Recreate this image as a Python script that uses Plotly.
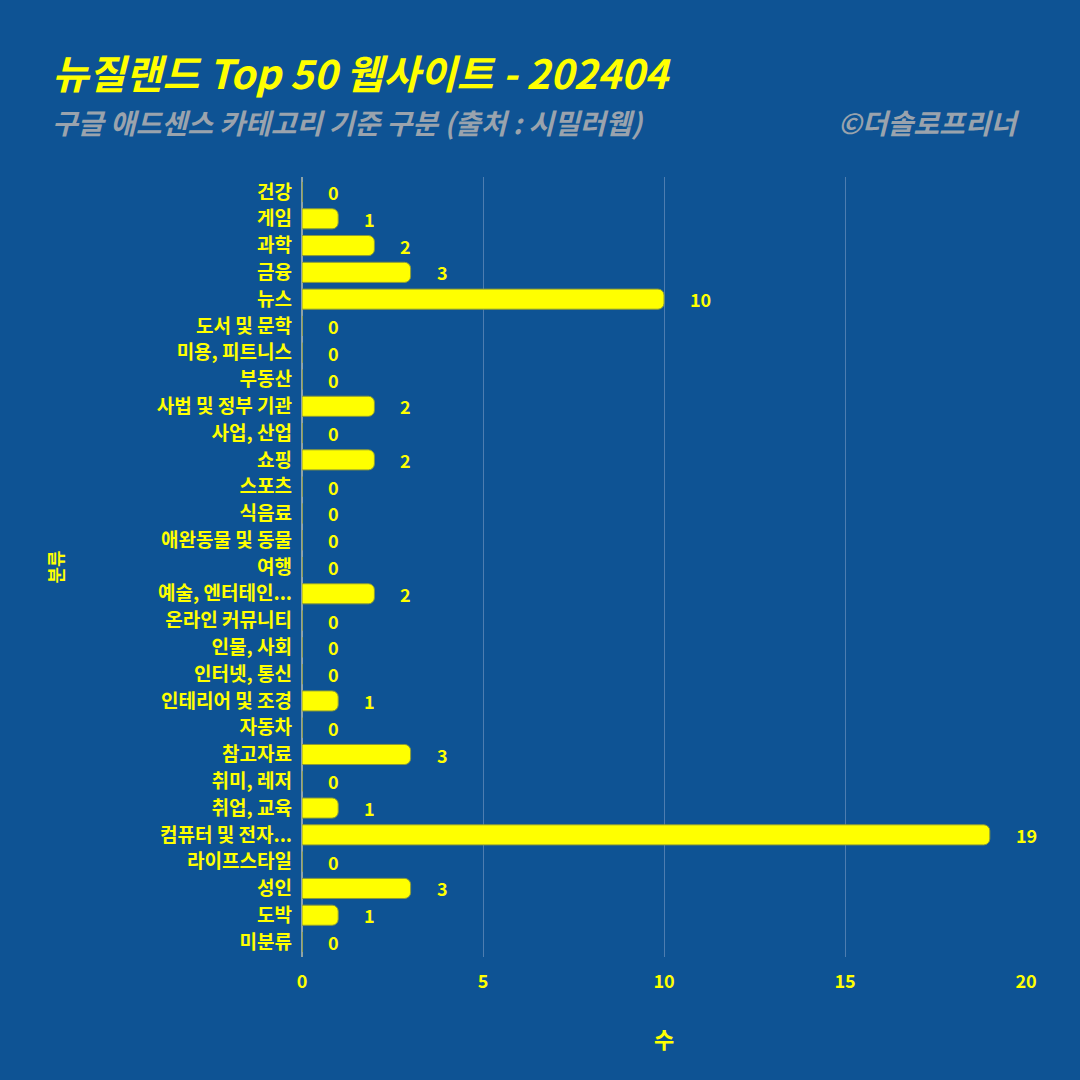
import plotly.graph_objects as go

categories = ["건강", "게임", "과학", "금융", "뉴스", "도서 및 문학", "미용, 피트니스", "부동산",
              "사법 및 정부 기관", "사업, 산업", "쇼핑", "스포츠", "식음료", "애완동물 및 동물", "여행",
              "예술, 엔터테인...", "온라인 커뮤니티", "인물, 사회", "인터넷, 통신", "인테리어 및 조경",
              "자동차", "참고자료", "취미, 레저", "취업, 교육", "컴퓨터 및 전자...", "라이프스타일",
              "성인", "도박", "미분류"]
values = [0, 1, 2, 3, 10, 0, 0, 0, 2, 0, 2, 0, 0, 0, 0, 2, 0, 0, 0, 1, 0, 3, 0, 1, 19, 0, 3, 1, 0]
x_ticks = [0, 5, 10, 15, 20]

BG = "#0E5394"
YEL = "#FFFF00"
FONT = "Noto Sans CJK KR"

fig = go.Figure()
fig.add_trace(go.Bar(
    x=values, y=categories, orientation="h",
    marker=dict(color=YEL, line=dict(color="#8a9a3a", width=1), cornerradius=6),
    hoverinfo="x+y",
))

for c, v in zip(categories, values):
    fig.add_annotation(x=v, y=c, text=str(v), showarrow=False, xanchor="left",
                       xshift=24, font=dict(family=FONT, size=18, color=YEL, weight="bold"))

fig.add_annotation(xref="paper", yref="paper", x=-0.348, y=1.135, xanchor="left", yanchor="middle",
                   text="<b><i>뉴질랜드 Top 50 웹사이트 - 202404</i></b>", showarrow=False,
                   font=dict(family=FONT, size=40, color=YEL))
fig.add_annotation(xref="paper", yref="paper", x=-0.348, y=1.071, xanchor="left", yanchor="middle",
                   text="<b><i>구글 애드센스 카테고리 기준 구분 (출처 : 시밀러웹)</i></b>", showarrow=False,
                   font=dict(family=FONT, size=28, color="#9aa3ad"))
fig.add_annotation(xref="paper", yref="paper", x=0.995, y=1.071, xanchor="right", yanchor="middle",
                   text="<b><i>©더솔로프리너</i></b>", showarrow=False,
                   font=dict(family=FONT, size=28, color="#9aa3ad"))

fig.update_layout(
    width=1080, height=1080,
    paper_bgcolor=BG, plot_bgcolor=BG,
    margin=dict(l=302, r=54, t=177, b=123),
    bargap=0.25,
    showlegend=False,
    font=dict(family=FONT, color=YEL, size=17),
    xaxis=dict(range=[0, 20], tickvals=x_ticks, showgrid=True, gridcolor="#4d7db0", gridwidth=1,
               zeroline=True, zerolinecolor="#8fa3a6", zerolinewidth=2,
               tickfont=dict(family=FONT, size=18, color=YEL, weight="bold"),
               ticklabelstandoff=12,
               title=dict(text="<b>수</b>", font=dict(family=FONT, size=22, color=YEL), standoff=40),
               ticks="", ticklen=0, fixedrange=True),
    yaxis=dict(categoryorder="array", categoryarray=categories, autorange="reversed",
               tickfont=dict(family=FONT, size=19, color=YEL, weight="bold"), ticks="",
               ticklabelstandoff=9,
               showgrid=False,
               title=dict(text="<b>분류</b>", font=dict(family=FONT, size=18, color=YEL), standoff=88)),
)

fig.write_html("out.html")
